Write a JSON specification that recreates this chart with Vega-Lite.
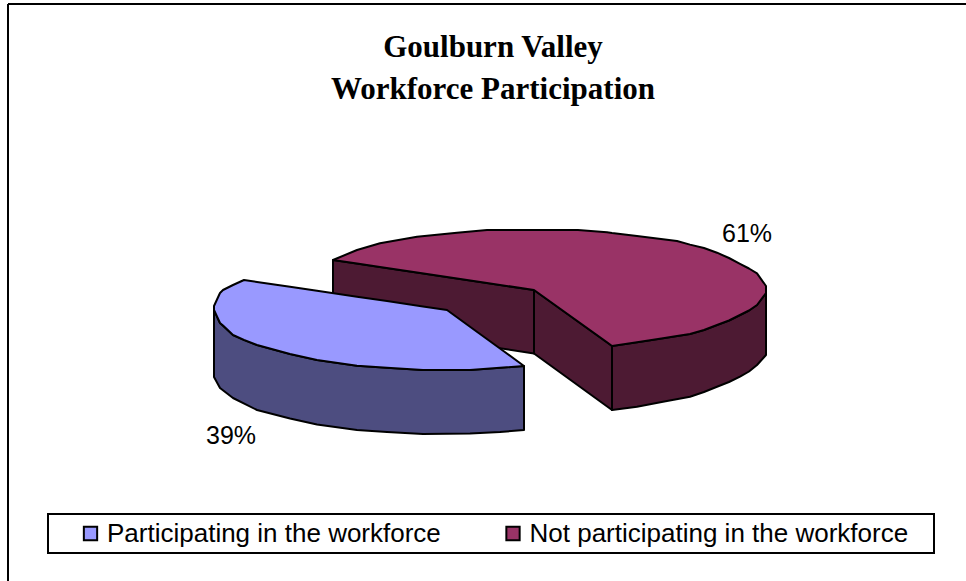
{
"$schema":"https://vega.github.io/schema/vega-lite/v6.json",
"width":966,"height":581,"padding":0,"autosize":{"type":"none"},"background":"white",
"config":{"view":{"stroke":null}},
"title":{"text":["Goulburn Valley","Workforce Participation"],"font":"Liberation Serif","fontWeight":"bold","fontSize":31,"lineHeight":42,"color":"black","anchor":"middle","dx":10,"offset":-106},
"layer":[
{"data":{"values":[{"x1":8,"y1":4,"x2":966,"y2":4},{"x1":8,"y1":4,"x2":8,"y2":581}]},
 "mark":{"type":"rule","stroke":"black","strokeWidth":2},
 "encoding":{"x":{"field":"x1","type":"quantitative","scale":{"domain":[0,966],"nice":false,"zero":false},"axis":null},"x2":{"field":"x2"},"y":{"field":"y1","type":"quantitative","scale":{"domain":[581,0],"nice":false,"zero":false},"axis":null},"y2":{"field":"y2"}}},
{"data":{"values":[{"x1":48,"x2":934,"y1":514,"y2":553}]},
 "mark":{"type":"rect","fill":"white","stroke":"black","strokeWidth":2},
 "encoding":{"x":{"field":"x1","type":"quantitative","scale":{"domain":[0,966],"nice":false,"zero":false},"axis":null},"x2":{"field":"x2"},"y":{"field":"y1","type":"quantitative","scale":{"domain":[581,0],"nice":false,"zero":false},"axis":null},"y2":{"field":"y2"}}},
{"data":{"values":[
{"face":"r_wall1","slice":"Not side","x":333,"y":260,"y2":323},{"face":"r_wall1","slice":"Not side","x":534,"y":290,"y2":353.5},
{"face":"r_wall2","slice":"Not side","x":534,"y":290,"y2":353.5},{"face":"r_wall2","slice":"Not side","x":612,"y":346,"y2":410},
{"face":"r_outer","slice":"Not side","x":612,"y":346,"y2":410},{"face":"r_outer","slice":"Not side","x":637,"y":342.3,"y2":406.7},{"face":"r_outer","slice":"Not side","x":663,"y":338.3,"y2":401.7},{"face":"r_outer","slice":"Not side","x":690,"y":334,"y2":396.7},{"face":"r_outer","slice":"Not side","x":704,"y":330,"y2":392},{"face":"r_outer","slice":"Not side","x":717,"y":325,"y2":386.7},{"face":"r_outer","slice":"Not side","x":729,"y":320.5,"y2":382},{"face":"r_outer","slice":"Not side","x":740,"y":315,"y2":376.7},{"face":"r_outer","slice":"Not side","x":749,"y":310.5,"y2":371.5},{"face":"r_outer","slice":"Not side","x":757,"y":305,"y2":365},{"face":"r_outer","slice":"Not side","x":766,"y":293,"y2":355},
{"face":"r_top","slice":"Not participating in the workforce","x":333,"y":260,"y2":260},{"face":"r_top","slice":"Not participating in the workforce","x":357,"y":250,"y2":263.5},{"face":"r_top","slice":"Not participating in the workforce","x":380,"y":243.3,"y2":267},{"face":"r_top","slice":"Not participating in the workforce","x":417,"y":236.7,"y2":272.5},{"face":"r_top","slice":"Not participating in the workforce","x":457,"y":232.7,"y2":278.5},{"face":"r_top","slice":"Not participating in the workforce","x":487,"y":230,"y2":283},{"face":"r_top","slice":"Not participating in the workforce","x":534,"y":230,"y2":290},{"face":"r_top","slice":"Not participating in the workforce","x":578,"y":230,"y2":321.5},{"face":"r_top","slice":"Not participating in the workforce","x":607,"y":232.3,"y2":342.3},{"face":"r_top","slice":"Not participating in the workforce","x":612,"y":233,"y2":346},{"face":"r_top","slice":"Not participating in the workforce","x":637,"y":235.9,"y2":342.3},{"face":"r_top","slice":"Not participating in the workforce","x":663,"y":239.3,"y2":338.3},{"face":"r_top","slice":"Not participating in the workforce","x":677,"y":241,"y2":336},{"face":"r_top","slice":"Not participating in the workforce","x":690,"y":244.6,"y2":334},{"face":"r_top","slice":"Not participating in the workforce","x":704,"y":248,"y2":330},{"face":"r_top","slice":"Not participating in the workforce","x":717,"y":252.7,"y2":325},{"face":"r_top","slice":"Not participating in the workforce","x":729,"y":258,"y2":320.5},{"face":"r_top","slice":"Not participating in the workforce","x":740,"y":263.8,"y2":315},{"face":"r_top","slice":"Not participating in the workforce","x":749,"y":268.5,"y2":310.5},{"face":"r_top","slice":"Not participating in the workforce","x":757,"y":273.3,"y2":305},{"face":"r_top","slice":"Not participating in the workforce","x":766,"y":286,"y2":293},
{"face":"b_side","slice":"Participating side","x":214,"y":310,"y2":377},{"face":"b_side","slice":"Participating side","x":220,"y":323,"y2":388},{"face":"b_side","slice":"Participating side","x":233,"y":335,"y2":398},{"face":"b_side","slice":"Participating side","x":257,"y":345,"y2":410},{"face":"b_side","slice":"Participating side","x":290,"y":354,"y2":418.5},{"face":"b_side","slice":"Participating side","x":317,"y":360,"y2":424.5},{"face":"b_side","slice":"Participating side","x":357,"y":365.7,"y2":430},{"face":"b_side","slice":"Participating side","x":387,"y":367.7,"y2":432},{"face":"b_side","slice":"Participating side","x":423,"y":370,"y2":434},{"face":"b_side","slice":"Participating side","x":470,"y":370,"y2":433.5},{"face":"b_side","slice":"Participating side","x":500,"y":367.7,"y2":432},{"face":"b_side","slice":"Participating side","x":524,"y":366,"y2":430},
{"face":"b_top","slice":"Participating in the workforce","x":214,"y":306,"y2":310},{"face":"b_top","slice":"Participating in the workforce","x":220,"y":293,"y2":323},{"face":"b_top","slice":"Participating in the workforce","x":223,"y":290,"y2":325.5},{"face":"b_top","slice":"Participating in the workforce","x":233,"y":285,"y2":335},{"face":"b_top","slice":"Participating in the workforce","x":244,"y":280,"y2":340},{"face":"b_top","slice":"Participating in the workforce","x":257,"y":281.9,"y2":345},{"face":"b_top","slice":"Participating in the workforce","x":290,"y":286.8,"y2":354},{"face":"b_top","slice":"Participating in the workforce","x":317,"y":290.8,"y2":360},{"face":"b_top","slice":"Participating in the workforce","x":357,"y":296.7,"y2":365.7},{"face":"b_top","slice":"Participating in the workforce","x":387,"y":301.1,"y2":367.7},{"face":"b_top","slice":"Participating in the workforce","x":423,"y":306.4,"y2":370},{"face":"b_top","slice":"Participating in the workforce","x":447,"y":310,"y2":370},{"face":"b_top","slice":"Participating in the workforce","x":470,"y":326.8,"y2":370},{"face":"b_top","slice":"Participating in the workforce","x":500,"y":348.5,"y2":367.7},{"face":"b_top","slice":"Participating in the workforce","x":524,"y":366,"y2":366}
]},
 "mark":{"type":"area","stroke":"black","strokeWidth":2,"strokeJoin":"round","opacity":1},
 "encoding":{
  "x":{"field":"x","type":"quantitative","scale":{"domain":[0,966],"nice":false,"zero":false},"axis":null},
  "y":{"field":"y","type":"quantitative","scale":{"domain":[581,0],"nice":false,"zero":false},"axis":null,"stack":null},
  "y2":{"field":"y2"},
  "detail":{"field":"face"},
  "fill":{"field":"slice","type":"nominal","sort":null,"scale":{"domain":["Participating in the workforce","Not participating in the workforce","Participating side","Not side"],"range":["#9999FF","#993366","#4D4D80","#4D1A33"]},
   "legend":{"values":["Participating in the workforce","Not participating in the workforce"],"title":null,"orient":"none","legendX":77.5,"legendY":520.5,"direction":"horizontal","padding":0,"symbolType":"square","symbolSize":177,"symbolStrokeColor":"black","symbolStrokeWidth":2,"symbolOpacity":1,"labelFont":"Liberation Sans","labelFontSize":26,"labelLimit":600,"labelColor":"black","labelOffset":3.5,"columnPadding":58.5}}
 }},
{"data":{"values":[{"x":747,"y":234,"label":"61%"},{"x":231,"y":436,"label":"39%"}]},
 "mark":{"type":"text","font":"Liberation Sans","fontSize":25,"color":"black","align":"center","baseline":"middle"},
 "encoding":{"x":{"field":"x","type":"quantitative","scale":{"domain":[0,966],"nice":false,"zero":false},"axis":null},"y":{"field":"y","type":"quantitative","scale":{"domain":[581,0],"nice":false,"zero":false},"axis":null},"text":{"field":"label"}}}
]
}
